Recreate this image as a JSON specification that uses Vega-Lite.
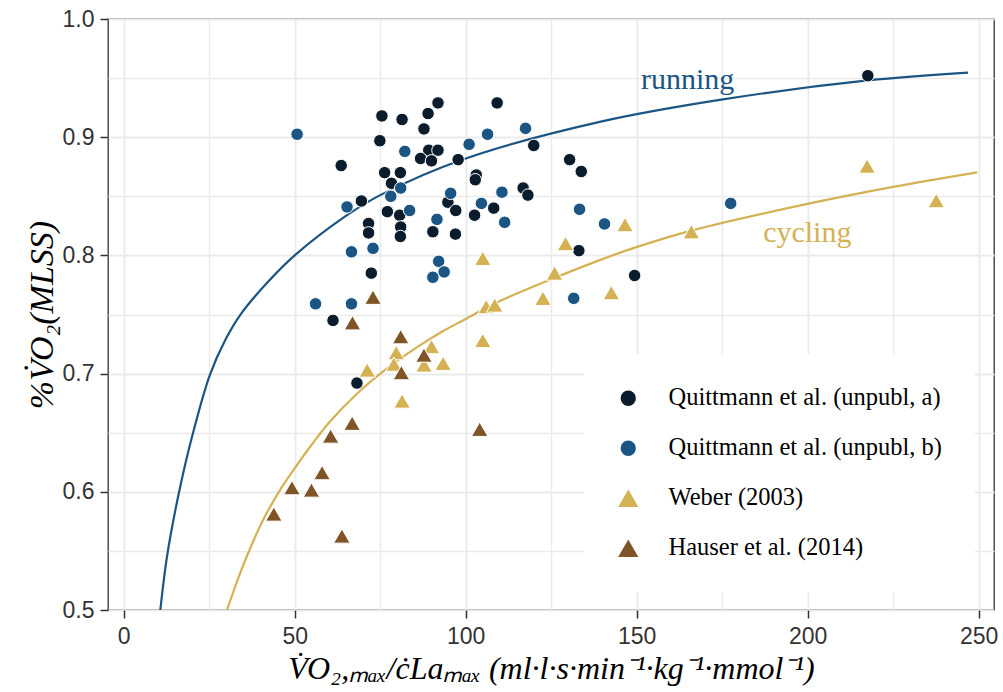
{
  "$schema": "https://vega.github.io/schema/vega-lite/v6.json",
  "width": 886,
  "height": 591,
  "autosize": {"type": "none"},
  "padding": {"left": 108, "top": 19, "right": 9, "bottom": 82},
  "background": "white",
  "datasets": {
    "curves": [
      {"curve": "running", "x": 10.7, "y": 0.5},
      {"curve": "running", "x": 12.7, "y": 0.546},
      {"curve": "running", "x": 16.2, "y": 0.6},
      {"curve": "running", "x": 20.1, "y": 0.648},
      {"curve": "running", "x": 25.2, "y": 0.699},
      {"curve": "running", "x": 29.8, "y": 0.729},
      {"curve": "running", "x": 34.4, "y": 0.751},
      {"curve": "running", "x": 42.0, "y": 0.777},
      {"curve": "running", "x": 50.0, "y": 0.800},
      {"curve": "running", "x": 65.3, "y": 0.834},
      {"curve": "running", "x": 75.0, "y": 0.851},
      {"curve": "running", "x": 100.0, "y": 0.882},
      {"curve": "running", "x": 139.2, "y": 0.913},
      {"curve": "running", "x": 175.2, "y": 0.932},
      {"curve": "running", "x": 217.6, "y": 0.948},
      {"curve": "running", "x": 246.9, "y": 0.9546},
      {"curve": "cycling", "x": 30.2, "y": 0.5},
      {"curve": "cycling", "x": 33.5, "y": 0.527},
      {"curve": "cycling", "x": 36.8, "y": 0.551},
      {"curve": "cycling", "x": 40.9, "y": 0.577},
      {"curve": "cycling", "x": 45.6, "y": 0.601},
      {"curve": "cycling", "x": 50.5, "y": 0.622},
      {"curve": "cycling", "x": 55.0, "y": 0.640},
      {"curve": "cycling", "x": 60.2, "y": 0.659},
      {"curve": "cycling", "x": 68.2, "y": 0.683},
      {"curve": "cycling", "x": 76.8, "y": 0.704},
      {"curve": "cycling", "x": 85.6, "y": 0.722},
      {"curve": "cycling", "x": 93.4, "y": 0.736},
      {"curve": "cycling", "x": 99.2, "y": 0.745},
      {"curve": "cycling", "x": 109.0, "y": 0.760},
      {"curve": "cycling", "x": 126.0, "y": 0.781},
      {"curve": "cycling", "x": 139.2, "y": 0.796},
      {"curve": "cycling", "x": 149.9, "y": 0.807},
      {"curve": "cycling", "x": 166.0, "y": 0.821},
      {"curve": "cycling", "x": 200.6, "y": 0.844},
      {"curve": "cycling", "x": 225.0, "y": 0.858},
      {"curve": "cycling", "x": 249.6, "y": 0.8703}
    ],
    "labels": [
      {"label": "running", "x": 164.9, "y": 0.941},
      {"label": "cycling", "x": 199.9, "y": 0.8116}
    ],
    "pts": [
      {"source": "Quittmann et al. (unpubl, a)", "x": 63.6, "y": 0.876},
      {"source": "Quittmann et al. (unpubl, a)", "x": 75.5, "y": 0.918},
      {"source": "Quittmann et al. (unpubl, a)", "x": 81.4, "y": 0.915},
      {"source": "Quittmann et al. (unpubl, a)", "x": 74.9, "y": 0.897},
      {"source": "Quittmann et al. (unpubl, a)", "x": 89.0, "y": 0.920},
      {"source": "Quittmann et al. (unpubl, a)", "x": 91.9, "y": 0.929},
      {"source": "Quittmann et al. (unpubl, a)", "x": 87.8, "y": 0.907},
      {"source": "Quittmann et al. (unpubl, a)", "x": 109.2, "y": 0.929},
      {"source": "Quittmann et al. (unpubl, a)", "x": 119.9, "y": 0.893},
      {"source": "Quittmann et al. (unpubl, a)", "x": 116.8, "y": 0.857},
      {"source": "Quittmann et al. (unpubl, a)", "x": 118.2, "y": 0.851},
      {"source": "Quittmann et al. (unpubl, a)", "x": 89.2, "y": 0.889},
      {"source": "Quittmann et al. (unpubl, a)", "x": 91.9, "y": 0.889},
      {"source": "Quittmann et al. (unpubl, a)", "x": 86.8, "y": 0.882},
      {"source": "Quittmann et al. (unpubl, a)", "x": 90.0, "y": 0.880},
      {"source": "Quittmann et al. (unpubl, a)", "x": 97.8, "y": 0.881},
      {"source": "Quittmann et al. (unpubl, a)", "x": 103.1, "y": 0.868},
      {"source": "Quittmann et al. (unpubl, a)", "x": 102.8, "y": 0.864},
      {"source": "Quittmann et al. (unpubl, a)", "x": 76.3, "y": 0.870},
      {"source": "Quittmann et al. (unpubl, a)", "x": 80.9, "y": 0.870},
      {"source": "Quittmann et al. (unpubl, a)", "x": 78.3, "y": 0.861},
      {"source": "Quittmann et al. (unpubl, a)", "x": 69.5, "y": 0.846},
      {"source": "Quittmann et al. (unpubl, a)", "x": 77.1, "y": 0.837},
      {"source": "Quittmann et al. (unpubl, a)", "x": 80.7, "y": 0.834},
      {"source": "Quittmann et al. (unpubl, a)", "x": 81.0, "y": 0.824},
      {"source": "Quittmann et al. (unpubl, a)", "x": 80.9, "y": 0.816},
      {"source": "Quittmann et al. (unpubl, a)", "x": 71.6, "y": 0.827},
      {"source": "Quittmann et al. (unpubl, a)", "x": 71.6, "y": 0.819},
      {"source": "Quittmann et al. (unpubl, a)", "x": 72.4, "y": 0.785},
      {"source": "Quittmann et al. (unpubl, a)", "x": 94.8, "y": 0.845},
      {"source": "Quittmann et al. (unpubl, a)", "x": 97.1, "y": 0.838},
      {"source": "Quittmann et al. (unpubl, a)", "x": 90.4, "y": 0.820},
      {"source": "Quittmann et al. (unpubl, a)", "x": 97.0, "y": 0.818},
      {"source": "Quittmann et al. (unpubl, a)", "x": 102.6, "y": 0.834},
      {"source": "Quittmann et al. (unpubl, a)", "x": 108.2, "y": 0.840},
      {"source": "Quittmann et al. (unpubl, a)", "x": 130.4, "y": 0.881},
      {"source": "Quittmann et al. (unpubl, a)", "x": 133.8, "y": 0.871},
      {"source": "Quittmann et al. (unpubl, a)", "x": 133.1, "y": 0.804},
      {"source": "Quittmann et al. (unpubl, a)", "x": 149.4, "y": 0.783},
      {"source": "Quittmann et al. (unpubl, a)", "x": 217.6, "y": 0.952},
      {"source": "Quittmann et al. (unpubl, a)", "x": 61.2, "y": 0.745},
      {"source": "Quittmann et al. (unpubl, a)", "x": 68.2, "y": 0.692},
      {"source": "Quittmann et al. (unpubl, b)", "x": 50.7, "y": 0.9025},
      {"source": "Quittmann et al. (unpubl, b)", "x": 56.1, "y": 0.759},
      {"source": "Quittmann et al. (unpubl, b)", "x": 66.6, "y": 0.759},
      {"source": "Quittmann et al. (unpubl, b)", "x": 82.2, "y": 0.888},
      {"source": "Quittmann et al. (unpubl, b)", "x": 101.0, "y": 0.894},
      {"source": "Quittmann et al. (unpubl, b)", "x": 106.4, "y": 0.9025},
      {"source": "Quittmann et al. (unpubl, b)", "x": 117.5, "y": 0.9075},
      {"source": "Quittmann et al. (unpubl, b)", "x": 65.3, "y": 0.841},
      {"source": "Quittmann et al. (unpubl, b)", "x": 81.0, "y": 0.857},
      {"source": "Quittmann et al. (unpubl, b)", "x": 78.1, "y": 0.850},
      {"source": "Quittmann et al. (unpubl, b)", "x": 83.6, "y": 0.838},
      {"source": "Quittmann et al. (unpubl, b)", "x": 95.6, "y": 0.8525},
      {"source": "Quittmann et al. (unpubl, b)", "x": 104.6, "y": 0.844},
      {"source": "Quittmann et al. (unpubl, b)", "x": 110.6, "y": 0.8535},
      {"source": "Quittmann et al. (unpubl, b)", "x": 111.4, "y": 0.828},
      {"source": "Quittmann et al. (unpubl, b)", "x": 91.6, "y": 0.8305},
      {"source": "Quittmann et al. (unpubl, b)", "x": 66.6, "y": 0.803},
      {"source": "Quittmann et al. (unpubl, b)", "x": 72.9, "y": 0.806},
      {"source": "Quittmann et al. (unpubl, b)", "x": 92.1, "y": 0.795},
      {"source": "Quittmann et al. (unpubl, b)", "x": 93.7, "y": 0.786},
      {"source": "Quittmann et al. (unpubl, b)", "x": 90.4, "y": 0.7815},
      {"source": "Quittmann et al. (unpubl, b)", "x": 133.3, "y": 0.839},
      {"source": "Quittmann et al. (unpubl, b)", "x": 140.6, "y": 0.8266},
      {"source": "Quittmann et al. (unpubl, b)", "x": 177.5, "y": 0.844},
      {"source": "Quittmann et al. (unpubl, b)", "x": 131.6, "y": 0.7637},
      {"source": "Weber (2003)", "x": 217.4, "y": 0.8756},
      {"source": "Weber (2003)", "x": 237.6, "y": 0.8463},
      {"source": "Weber (2003)", "x": 166.0, "y": 0.820},
      {"source": "Weber (2003)", "x": 146.6, "y": 0.826},
      {"source": "Weber (2003)", "x": 129.2, "y": 0.810},
      {"source": "Weber (2003)", "x": 126.0, "y": 0.785},
      {"source": "Weber (2003)", "x": 142.6, "y": 0.7685},
      {"source": "Weber (2003)", "x": 122.6, "y": 0.7637},
      {"source": "Weber (2003)", "x": 105.0, "y": 0.7975},
      {"source": "Weber (2003)", "x": 106.0, "y": 0.7566},
      {"source": "Weber (2003)", "x": 108.5, "y": 0.758},
      {"source": "Weber (2003)", "x": 105.0, "y": 0.728},
      {"source": "Weber (2003)", "x": 79.7, "y": 0.7177},
      {"source": "Weber (2003)", "x": 90.0, "y": 0.7228},
      {"source": "Weber (2003)", "x": 93.4, "y": 0.7087},
      {"source": "Weber (2003)", "x": 87.8, "y": 0.7073},
      {"source": "Weber (2003)", "x": 79.0, "y": 0.708},
      {"source": "Weber (2003)", "x": 71.2, "y": 0.703},
      {"source": "Weber (2003)", "x": 81.4, "y": 0.6768},
      {"source": "Hauser et al. (2014)", "x": 72.9, "y": 0.7646},
      {"source": "Hauser et al. (2014)", "x": 66.9, "y": 0.743},
      {"source": "Hauser et al. (2014)", "x": 81.0, "y": 0.7312},
      {"source": "Hauser et al. (2014)", "x": 87.8, "y": 0.7157},
      {"source": "Hauser et al. (2014)", "x": 81.2, "y": 0.7008},
      {"source": "Hauser et al. (2014)", "x": 104.1, "y": 0.6529},
      {"source": "Hauser et al. (2014)", "x": 66.8, "y": 0.658},
      {"source": "Hauser et al. (2014)", "x": 60.5, "y": 0.6472},
      {"source": "Hauser et al. (2014)", "x": 58.0, "y": 0.6162},
      {"source": "Hauser et al. (2014)", "x": 49.2, "y": 0.6035},
      {"source": "Hauser et al. (2014)", "x": 54.9, "y": 0.6015},
      {"source": "Hauser et al. (2014)", "x": 43.9, "y": 0.5812},
      {"source": "Hauser et al. (2014)", "x": 63.8, "y": 0.5626}
    ]
  },
  "encoding": {
    "x": {
      "field": "x", "type": "quantitative",
      "scale": {"domain": [-4.6, 254.5], "nice": false, "zero": false},
      "axis": {
        "values": [0, 25, 50, 75, 100, 125, 150, 175, 200, 225, 250],
        "labelExpr": "datum.value % 50 === 0 ? datum.label : ''",
        "gridWidth": {"condition": {"test": "datum.value % 50 === 0", "value": 2}, "value": 1.4},
        "tickOpacity": {"condition": {"test": "datum.value % 50 === 0", "value": 1}, "value": 0},
        "title": "V̇O₂,ₘₐₓ/ċLaₘₐₓ (ml·l·s·min⁻¹·kg⁻¹·mmol⁻¹)",
        "titleFontSize": 32,
        "titlePadding": 5,
        "labelPadding": 7
      }
    },
    "y": {
      "field": "y", "type": "quantitative",
      "scale": {"domain": [0.5, 1.0], "nice": false, "zero": false},
      "axis": {
        "values": [0.5, 0.55, 0.6, 0.65, 0.7, 0.75, 0.8, 0.85, 0.9, 0.95, 1.0],
        "labelExpr": "abs(datum.value*10 - round(datum.value*10)) < 0.001 ? format(datum.value, '.1f') : ''",
        "gridWidth": {"condition": {"test": "abs(datum.value*10 - round(datum.value*10)) < 0.001", "value": 2}, "value": 1.4},
        "tickOpacity": {"condition": {"test": "abs(datum.value*10 - round(datum.value*10)) < 0.001", "value": 1}, "value": 0},
        "title": "%V̇O₂(MLSS)",
        "titleFontSize": 34,
        "titlePadding": 3,
        "labelPadding": 6
      }
    }
  },
  "layer": [
    {
      "data": {"name": "curves"},
      "mark": {"type": "line", "strokeWidth": 2.2, "interpolate": "catmull-rom"},
      "encoding": {
        "detail": {"field": "curve"},
        "stroke": {
          "field": "curve", "type": "nominal",
          "scale": {"domain": ["running", "cycling"], "range": ["#1B5583", "#D4B254"]},
          "legend": null
        }
      }
    },
    {
      "data": {"name": "pts"},
      "mark": {"type": "point", "filled": true, "opacity": 1, "size": 156, "stroke": "white", "strokeWidth": 1},
      "encoding": {
        "color": {
          "field": "source", "type": "nominal",
          "scale": {
            "domain": ["Quittmann et al. (unpubl, a)", "Quittmann et al. (unpubl, b)", "Weber (2003)", "Hauser et al. (2014)"],
            "range": ["#0B1D2C", "#1B5583", "#D4B254", "#7F5427"]
          },
          "legend": {
            "title": null,
            "orient": "none",
            "legendX": 476,
            "legendY": 335,
            "padding": 32,
            "fillColor": "white",
            "labelFont": "Liberation Serif",
            "labelFontSize": 24.5,
            "labelColor": "black",
            "labelOffset": 28,
            "rowPadding": 25,
            "symbolSize": 235,
            "symbolStrokeWidth": 0,
            "labelLimit": 400
          }
        },
        "shape": {
          "field": "source", "type": "nominal",
          "scale": {
            "domain": ["Quittmann et al. (unpubl, a)", "Quittmann et al. (unpubl, b)", "Weber (2003)", "Hauser et al. (2014)"],
            "range": ["circle", "circle", "M0,-1.14L1.32,1.14L-1.32,1.14Z", "M0,-1.14L1.32,1.14L-1.32,1.14Z"]
          }
        }
      }
    },
    {
      "data": {"name": "labels"},
      "mark": {"type": "text", "font": "Liberation Serif", "fontSize": 30, "align": "center", "baseline": "alphabetic"},
      "encoding": {
        "text": {"field": "label"},
        "fill": {
          "field": "label", "type": "nominal",
          "scale": {"domain": ["running", "cycling"], "range": ["#1B5583", "#D4B254"]},
          "legend": null
        }
      }
    }
  ],
  "config": {
    "view": {"stroke": "#333333", "strokeWidth": 1.3},
    "axis": {
      "domain": false,
      "grid": true,
      "gridColor": "#EBEBEB",
      "tickColor": "#333333",
      "tickSize": 8,
      "tickWidth": 1.5,
      "labelFont": "Liberation Sans",
      "labelFontSize": 23,
      "labelColor": "#333333",
      "labelOverlap": false,
      "labelBound": false,
      "labelFlush": false,
      "titleFont": "Liberation Serif",
      "titleFontStyle": "italic",
      "titleFontWeight": "normal",
      "titleColor": "black"
    }
  }
}
